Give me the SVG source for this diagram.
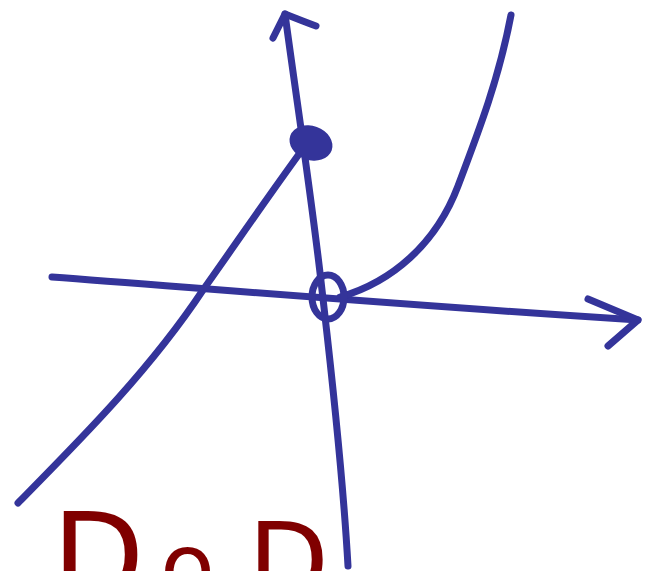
<svg xmlns="http://www.w3.org/2000/svg" width="648" height="571" viewBox="0 0 648 571">
<style>
.ink{fill:none;stroke:#34349a;stroke-width:7;stroke-linecap:round;stroke-linejoin:round}
.dot{fill:#34349a}
.red{fill:#800000;font-family:"DejaVu Sans",sans-serif}
</style>
<rect width="648" height="571" fill="#ffffff"/>
<g id="connectors">
<path id="x-axis" class="ink" d="M52,277 C 200,288 400,305 638,320"/>
<path class="ink" d="M588,299 L638,320 L608,346"/>
<path id="y-axis" class="ink" d="M348,566 C 342,460 330,360 322,290 C 312,200 298,110 285,14"/>
<path class="ink" d="M273,38 L285,14 C 295,18 305,22 316,26"/>
<path id="left-curve" class="ink" d="M18,503 C 80,440 150,370 203,290 C 235,245 262,205 302,150"/>
<path id="right-curve" class="ink" d="M340,297 C 392,282 436,244 458,186 C 480,128 499,78 511,15"/>
</g>
<g id="filled-dot"><ellipse class="dot" cx="311" cy="143" rx="22" ry="17" transform="rotate(20 311 143)"/></g>
<g id="open-dot"><ellipse class="ink" cx="328" cy="297" rx="16" ry="22"/></g>
<g id="label">
<text class="red" x="52" y="598" font-size="120">D</text>
<text class="red" x="160" y="598" font-size="90">o</text>
<text class="red" x="248" y="598" font-size="105">D</text>
</g>
</svg>
